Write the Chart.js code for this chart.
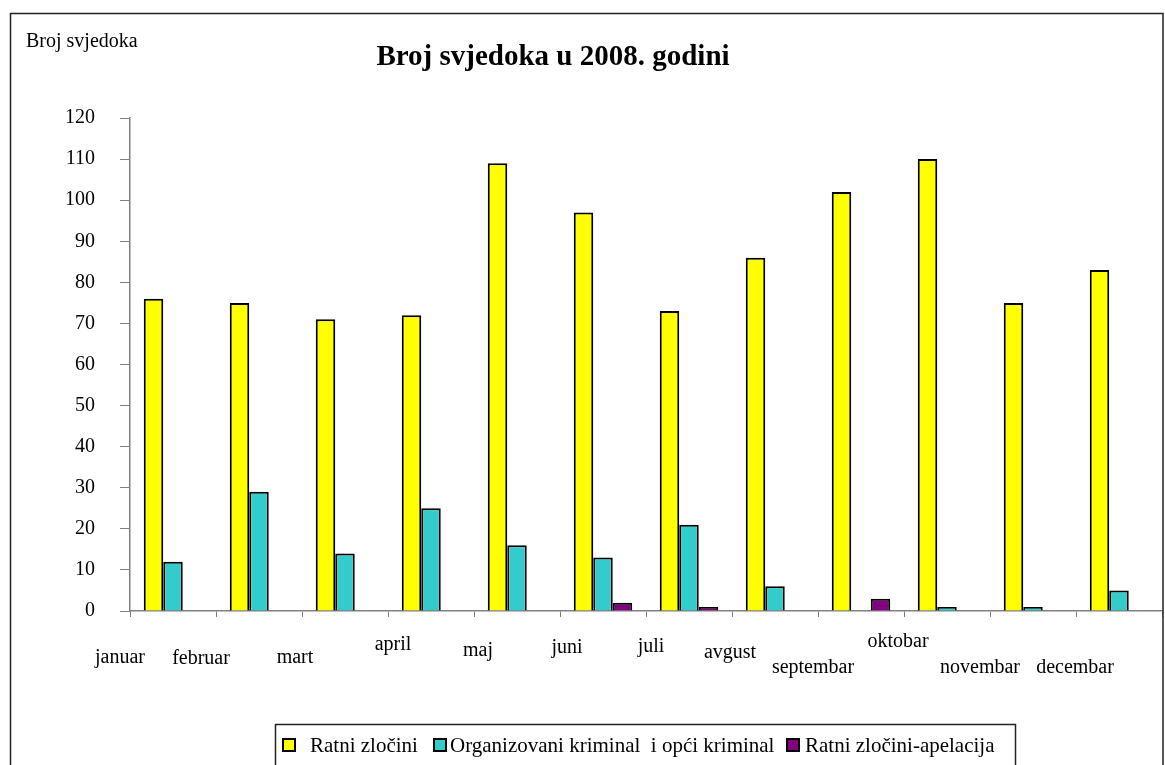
<!DOCTYPE html>
<html>
<head>
<meta charset="utf-8">
<script src="https://cdn.jsdelivr.net/npm/chart.js@4.4.1/dist/chart.umd.min.js"></script>
<style>
    body { margin: 0; background: #fff; }
    #wrap { width: 1165px; height: 765px; position: relative; }
</style>
</head>
<body>
<div id="wrap"><canvas id="svjedociChart"></canvas></div>
<script>
const months = ['januar', 'februar', 'mart', 'april', 'maj', 'juni', 'juli', 'avgust', 'septembar', 'oktobar', 'novembar', 'decembar'];
const ratniZlocini = [76, 75, 71, 72, 109, 97, 73, 86, 102, 110, 75, 83];
const organizovaniKriminal = [12, 29, 14, 25, 16, 13, 21, 6, null, 1, 1, 5];
const apelacija = [null, null, null, null, null, 2, 1, null, 3, null, null, null];
const yTicks = [0, 10, 20, 30, 40, 50, 60, 70, 80, 90, 100, 110, 120];

// the month labels in the original sit a bit off their columns, staggered
const labelShiftX = [-53, -58, -50, -38, -39, -36, -38, -45, -48, -49, -53, -44];
const labelShiftY = [52, 53, 52, 39, 45, 42, 41, 47, 62, 36, 62, 62];
// legend swatch / text x positions
const legendSwatchX = [283, 434, 787];
const legendTextX = [310, 450, 805];

const serif = '"Liberation Serif", "Times New Roman", serif';

const decorations = {
    id: 'decorations',
    afterDraw(chart) {
        const ctx = chart.ctx;
        const x = chart.scales.x;
        ctx.save();

        // frame
        ctx.strokeStyle = '#222';
        ctx.lineWidth = 1.5;
        ctx.strokeRect(10.5, 13.5, 1152.5, 760);

        // titles
        ctx.fillStyle = '#000';
        ctx.textBaseline = 'alphabetic';
        ctx.textAlign = 'left';
        ctx.font = '20px ' + serif;
        ctx.fillText('Broj svjedoka', 26, 47);
        ctx.textAlign = 'center';
        ctx.font = 'bold 29px ' + serif;
        ctx.fillText('Broj svjedoka u 2008. godini', 553, 65);

        // month labels
        ctx.font = '20px ' + serif;
        chart.data.labels.forEach(function (lbl, i) {
            ctx.fillText(lbl, x.getPixelForValue(i) + labelShiftX[i], x.top + labelShiftY[i]);
        });

        // legend
        ctx.strokeStyle = '#222';
        ctx.lineWidth = 1.5;
        ctx.strokeRect(275.5, 724.5, 740, 50);
        ctx.font = '21px ' + serif;
        ctx.textAlign = 'left';
        chart.data.datasets.forEach(function (ds, i) {
            ctx.fillStyle = ds.backgroundColor;
            ctx.fillRect(legendSwatchX[i], 739, 12, 12);
            ctx.strokeStyle = '#000';
            ctx.lineWidth = 2;
            ctx.strokeRect(legendSwatchX[i], 739, 12, 12);
            ctx.fillStyle = '#000';
            ctx.fillText(ds.label, legendTextX[i], 752);
        });
        ctx.restore();
    }
};

let chartEl = document.getElementById('svjedociChart');
let svjedociChart = new Chart(chartEl, {
    type: 'bar',
    data: {
        labels: months,
        datasets: [
            {
                label: 'Ratni zločini',
                data: ratniZlocini,
                backgroundColor: '#FFFF00',
                borderColor: '#000000',
                borderWidth: 2
            },
            {
                label: 'Organizovani kriminal  i opći kriminal',
                data: organizovaniKriminal,
                backgroundColor: '#33CCCC',
                borderColor: '#000000',
                borderWidth: 2
            },
            {
                label: 'Ratni zločini-apelacija',
                data: apelacija,
                backgroundColor: '#800080',
                borderColor: '#000000',
                borderWidth: 2
            }
        ]
    },
    options: {
        responsive: true,
        maintainAspectRatio: false,
        animation: false,
        datasets: {
            bar: { categoryPercentage: 0.68, barPercentage: 1 }
        },
        layout: { padding: { top: 118, right: 3, bottom: 0, left: 0 } },
        plugins: {
            legend: { display: false },
            title: { display: false },
            tooltip: { enabled: false }
        },
        scales: {
            x: {
                offset: true,
                grid: { offset: true, drawOnChartArea: false, drawTicks: true, tickLength: 6, color: '#808080' },
                border: { display: true, color: '#808080', width: 1.5 },
                ticks: { display: false },
                afterFit: function (scale) { scale.height = 154; }
            },
            y: {
                min: 0,
                max: 120,
                afterBuildTicks: function (scale) {
                    scale.ticks = yTicks.map(v => ({ value: v }));
                },
                grid: { drawOnChartArea: false, drawTicks: true, tickLength: 10, color: '#808080' },
                border: { display: true, color: '#808080', width: 1.5 },
                ticks: {
                    color: '#000',
                    padding: 25,
                    font: { family: serif, size: 20 }
                },
                afterFit: function (scale) { scale.width = 130; }
            }
        }
    },
    plugins: [decorations]
});
</script>
</body>
</html>
